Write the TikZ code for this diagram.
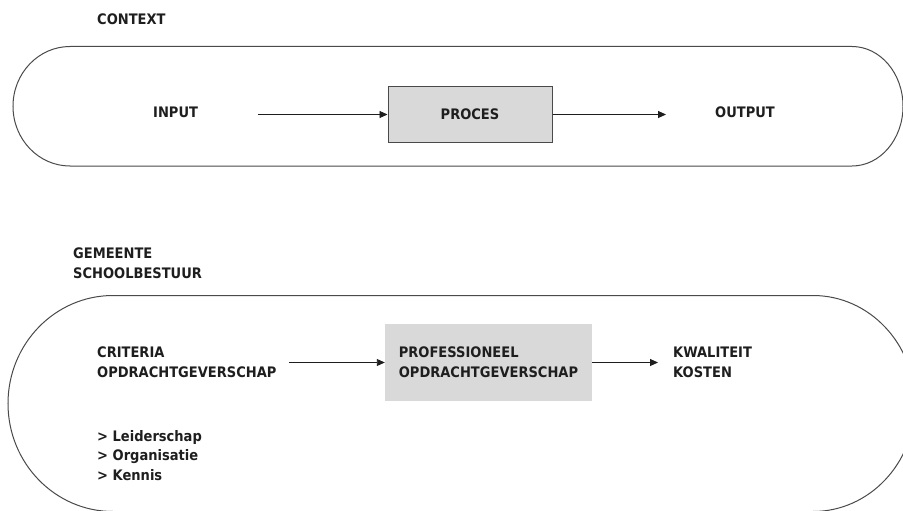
\documentclass[tikz,border=0pt]{standalone}
\usepackage{fontspec}
\setmainfont{DejaVu Sans}[FakeStretch=0.9]
\usetikzlibrary{arrows.meta}
\definecolor{txt}{HTML}{1E1E1E}
\definecolor{edge}{HTML}{4A4A4A}
\definecolor{boxfill}{HTML}{D9D9D9}
\tikzset{
  lbl/.style={anchor=north west,inner sep=0pt,align=left,text=txt,
    font=\fontsize{14.5}{19.6}\selectfont\bfseries},
  track/.style={draw=edge,line width=1pt},
  procbox/.style={draw=edge,line width=1pt,fill=boxfill,minimum width=164,minimum height=55,
    inner sep=0pt,text=txt,font=\fontsize{14.5}{19.6}\selectfont\bfseries},
  profbox/.style={fill=boxfill,minimum width=207,minimum height=77,inner sep=0pt,align=left,
    text=txt,font=\fontsize{14.5}{19.6}\selectfont\bfseries},
  arr/.style={draw=txt,line width=0.9pt,-{Triangle[length=8pt,width=7pt]}}
}
\begin{document}
\begin{tikzpicture}[x=1pt,y=-1pt]
\useasboundingbox (0,0) rectangle (903,511);
\clip (0,0) rectangle (903,511);
% racetracks
\draw[track] (70,46.5) -- (852,46.5)
  arc[start angle=-90,end angle=90,x radius=51,y radius=59.75]
  -- (70,166) arc[start angle=90,end angle=270,x radius=57,y radius=59.75] -- cycle;
\draw[track] (113,295.5) -- (813,295.5)
  arc[start angle=-90,end angle=90,x radius=102,y radius=108]
  -- (113,511.5) arc[start angle=90,end angle=270,x radius=105,y radius=108] -- cycle;
% top part
\node[lbl] (context) at (97,13.5) {CONTEXT};
\node[lbl] (input) at (153,106.7) {INPUT};
\node[procbox] (proces) at (470,114.5) {PROCES};
\node[lbl] (output) at (715,106.7) {OUTPUT};
\coordinate (a1s) at (258,114.5);
\coordinate (a2e) at (666,114.5);
\draw[arr] (a1s) -- (proces.west);
\draw[arr] (proces.east) -- (a2e);
% bottom part
\node[lbl] (gemeente) at (73,248) {GEMEENTE\\SCHOOLBESTUUR};
\node[lbl] (criteria) at (97,346.7) {CRITERIA\\OPDRACHTGEVERSCHAP};
\node[profbox] (prof) at (488.5,362.5) {PROFESSIONEEL\\OPDRACHTGEVERSCHAP};
\node[lbl] (kwal) at (673,346.7) {KWALITEIT\\KOSTEN};
\node[lbl] (bullets) at (97,430) {> Leiderschap\\> Organisatie\\> Kennis};
\coordinate (b1s) at (289,362.5);
\coordinate (b2e) at (658,362.5);
\draw[arr] (b1s) -- (prof.west);
\draw[arr] (prof.east) -- (b2e);
\end{tikzpicture}
\end{document}
